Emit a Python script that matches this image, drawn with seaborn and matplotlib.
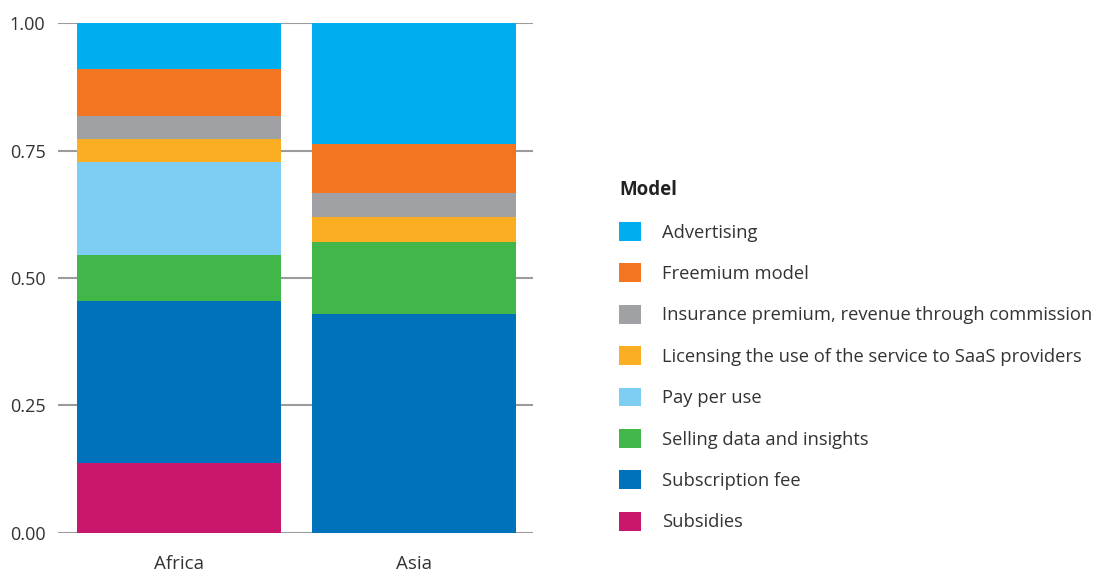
import matplotlib
matplotlib.use("Agg")
import matplotlib.pyplot as plt
from matplotlib.patches import Patch
import numpy as np
import pandas as pd
import seaborn as sns

# Number of business models counted per region
regions = ["Africa", "Asia"]
models = [
    "Advertising",
    "Freemium model",
    "Insurance premium, revenue through commission",
    "Licensing the use of the service to SaaS providers",
    "Pay per use",
    "Selling data and insights",
    "Subscription fee",
    "Subsidies",
]
africa_counts = [2, 2, 1, 1, 4, 2, 7, 3]
asia_counts = [5, 2, 1, 1, 0, 3, 9, 0]
colors = ["#00AEEF", "#F47521", "#A0A1A5", "#FBAE22",
          "#7ECEF4", "#41B649", "#0072BC", "#C8176C"]

sns.set_theme(style="white")
plt.rcParams["font.family"] = ["Open Sans", "DejaVu Sans"]

# Shares per region, stacked from the bottom (last model) upward
counts = pd.DataFrame({"Africa": africa_counts, "Asia": asia_counts}, index=models)
shares = counts / counts.sum()
cumulative = shares.iloc[::-1].cumsum().iloc[::-1]

fig = plt.figure(figsize=(10.98, 5.76), dpi=100)
ax = fig.add_axes([0.0528, 0.0747, 0.4326, 0.8853])

# Draw the tallest cumulative layer first so lower layers sit on top
for model, color in zip(models, colors):
    layer = pd.DataFrame({"region": regions,
                          "share": cumulative.loc[model, regions].values})
    sns.barplot(data=layer, x="region", y="share", color=color,
                width=0.87, saturation=1, ax=ax, zorder=3,
                linewidth=0, edgecolor="none")

ax.set_ylim(0, 1)
ax.set_xlim(-0.517, 1.507)
ax.set_yticks([0, 0.25, 0.5, 0.75, 1.0])
ax.set_yticklabels(["0.00", "0.25", "0.50", "0.75", "1.00"])
ax.yaxis.grid(True, color="#9B9B9B", linewidth=1.5, zorder=0)
ax.set_axisbelow(True)
for s in ax.spines.values():
    s.set_visible(False)
ax.set_xlabel("")
ax.set_ylabel("")
ax.tick_params(axis="both", length=0, labelcolor="#333333")
ax.tick_params(axis="y", pad=9, labelsize=13)
ax.tick_params(axis="x", pad=16, labelsize=13.5)

handles = [Patch(facecolor=c, edgecolor="none") for c in colors]
leg = fig.legend(handles, models, title="Model", loc="upper left",
                 bbox_to_anchor=(0.5557, 0.703), frameon=False,
                 fontsize=13.2, title_fontsize=13.5,
                 handlelength=1.2, handleheight=1.2,
                 handletextpad=1.12, labelspacing=1.19, borderpad=0,
                 alignment="left")
leg.get_title().set_fontweight("bold")
for t in leg.get_texts():
    t.set_color("#333333")
leg.get_title().set_color("#222222")

fig.savefig("out.png", dpi=100)
